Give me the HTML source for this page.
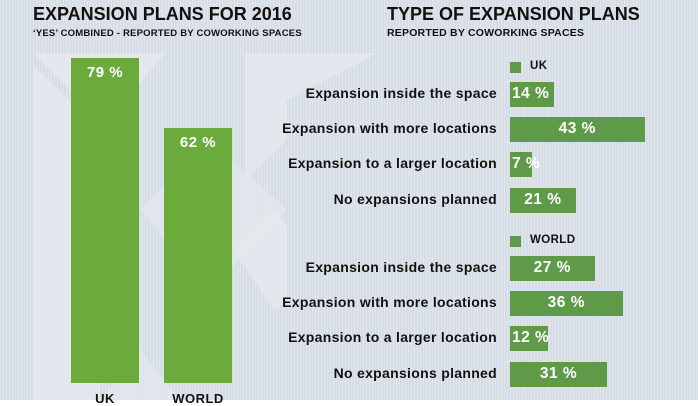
<!DOCTYPE html>
<html><head><meta charset="utf-8"><style>
body{margin:0;width:698px;height:400px;overflow:hidden;font-family:"Liberation Sans",sans-serif;}
#root{position:relative;width:698px;height:400px;background:#d6dde5;background-image:repeating-linear-gradient(90deg,rgba(255,255,255,0.25) 0 1px,transparent 1px 3px);}
.t{position:absolute;font-weight:bold;color:#111;white-space:nowrap}
</style></head><body>
<div id="root">
<svg id="bg" width="698" height="400" style="position:absolute;left:0;top:0">
<polygon points="33,53 165,53 105,125 33,53" fill="#e6eaef" opacity="0.8"/>
<polygon points="33,65 33,400 100,400 100,130" fill="#e6eaef" opacity="0.8"/>
<polygon points="245,53 378,53 287,100 287,140 245,180" fill="#e6eaef" opacity="0.8"/>
<polygon points="140,210 210,140 287,210 210,290" fill="#e2e7ec" opacity="0.8"/>
<polygon points="233,250 273,210 287,225 287,300 274,310" fill="#e6eaef" opacity="0.8"/>
<polygon points="100,400 140,350 180,400" fill="#e2e7ec" opacity="0.8"/>
</svg>
<div class="t" style="left:33px;top:4px;font-size:18px">EXPANSION PLANS FOR 2016</div>
<div class="t" style="left:33px;top:28px;font-size:9.5px;letter-spacing:0.2px">‘YES’ COMBINED - REPORTED BY COWORKING SPACES</div>
<div class="t" style="left:387px;top:4px;font-size:18px">TYPE OF EXPANSION PLANS</div>
<div class="t" style="left:387px;top:27px;font-size:10.5px;letter-spacing:0.2px">REPORTED BY COWORKING SPACES</div>
</div>
<script>
const colCats=["UK","WORLD"];
const colVals=[79,62];
const rowCats=["Expansion inside the space","Expansion with more locations","Expansion to a larger location","No expansions planned"];
const ukVals=[14,43,7,21];
const worldVals=[27,36,12,31];
const groups=["UK","WORLD"];
const root=document.getElementById('root');
function yCol(v){return 383-v*4.11;}
function xRow(v){return v*3.13;}
colCats.forEach((c,i)=>{
  const x=71+i*93, top=yCol(colVals[i]);
  const b=document.createElement('div');
  b.style.cssText=`position:absolute;left:${x}px;top:${top}px;width:68px;height:${383-top}px;background:#6aab3b;color:#fff;font-weight:bold;font-size:15px;text-align:center;padding-top:6px;box-sizing:border-box;letter-spacing:0.5px`;
  b.textContent=colVals[i]+' %';
  
  
  root.appendChild(b);
  const l=document.createElement('div');
  l.className='t';
  l.style.cssText=`left:${x-10}px;width:88px;text-align:center;top:391px;font-size:13px;letter-spacing:0.5px`;
  l.textContent=c;
  
  
  root.appendChild(l);
});
[ukVals,worldVals].forEach((vals,g)=>{
  const base=g===0?62:236;
  const sq=document.createElement('div');
  sq.style.cssText=`position:absolute;left:510px;top:${base}px;width:11px;height:11px;background:#5e9a48`;
  
  
  root.appendChild(sq);
  const lt=document.createElement('div');
  lt.className='t';
  lt.style.cssText=`left:530px;top:${base-2}px;font-size:11.5px;letter-spacing:0.4px`;
  lt.textContent=groups[g];
  
  
  root.appendChild(lt);
  vals.forEach((v,i)=>{
    const y=base+20+i*35.2, w=xRow(v);
    const b=document.createElement('div');
    b.style.cssText=`position:absolute;left:510px;top:${y}px;width:${w}px;height:25px;background:#5e9a48`;
    
    
    root.appendChild(b);
    const vt=document.createElement('div');
    vt.className='t';
    const small=w<50;
    vt.style.cssText=`color:#fff;font-size:15.5px;letter-spacing:0.5px;top:${y+3}px;`+(small?`left:512px;`:`left:510px;width:${w}px;text-align:center;`);
    vt.textContent=v+' %';
    
    
    root.appendChild(vt);
    const lb=document.createElement('div');
    lb.className='t';
    lb.style.cssText=`right:${698-497}px;top:${y+3}px;font-size:14px;letter-spacing:0.3px`;
    lb.textContent=rowCats[i];
    
    
    root.appendChild(lb);
  });
});
</script>
</body></html>
